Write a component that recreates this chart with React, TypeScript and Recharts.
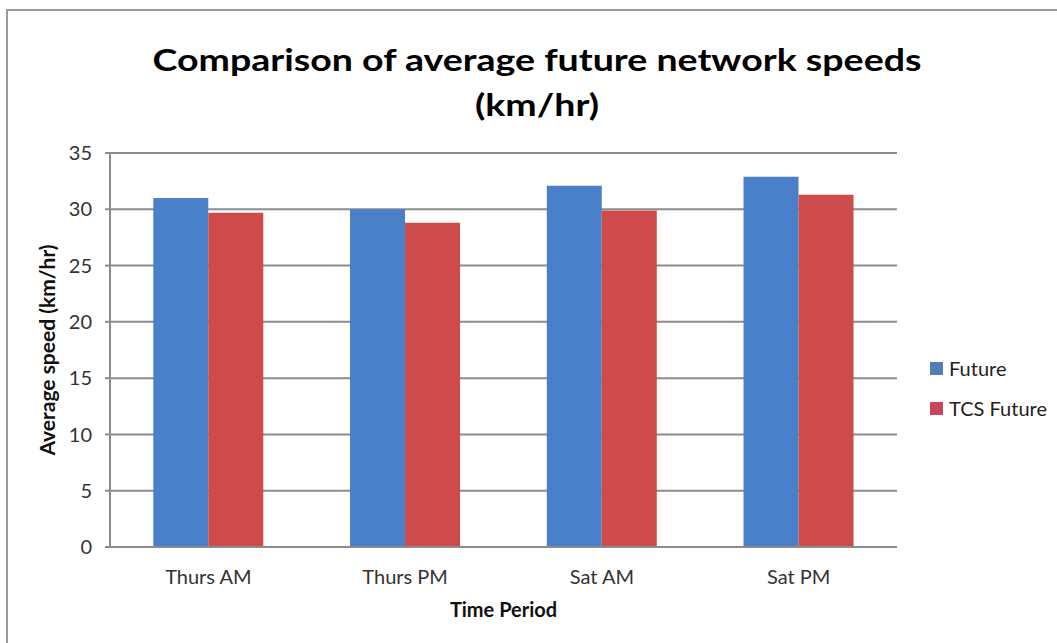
import { Bar, BarChart, CartesianGrid, Label, Legend, XAxis, YAxis } from 'recharts'

const periods = ['Thurs AM', 'Thurs PM', 'Sat AM', 'Sat PM']
const futureSpeeds = [31.0, 30.0, 32.1, 32.9]
const tcsFutureSpeeds = [29.7, 28.8, 29.9, 31.3]
const speedTicks = [0, 5, 10, 15, 20, 25, 30, 35]

const FONT = 'Lato, "Open Sans", sans-serif'
const BLUE = '#4a80c9'
const RED = '#cf4a4b'

const chartData = periods.map((period, i) => ({
  period,
  future: futureSpeeds[i],
  tcsFuture: tcsFutureSpeeds[i],
}))

function LegendBox() {
  const items = [
    { label: 'Future', color: '#4f7fb5' },
    { label: 'TCS Future', color: '#c9455a' },
  ]
  return (
    <div style={{ fontFamily: FONT, fontSize: 20, color: '#222' }}>
      {items.map((item) => (
        <div key={item.label} style={{ display: 'flex', alignItems: 'center', height: 40 }}>
          <span
            style={{ width: 13, height: 13, background: item.color, marginRight: 6, display: 'inline-block' }}
          />
          {item.label}
        </div>
      ))}
    </div>
  )
}

export default function App() {
  return (
    <div
      style={{
        position: 'absolute',
        left: 0,
        top: 0,
        width: 1057,
        height: 643,
        background: '#fff',
        overflow: 'hidden',
      }}
    >
      <div
        style={{
          position: 'absolute',
          left: 6,
          top: 9,
          width: 1100,
          height: 700,
          borderTop: '2px solid #9a9a9a',
          borderLeft: '2px solid #9a9a9a',
        }}
      />
      <div
        style={{
          position: 'absolute',
          left: 537,
          top: 37,
          transform: 'translateX(-50%) scaleX(1.25)',
          whiteSpace: 'nowrap',
          textAlign: 'center',
          fontFamily: FONT,
          fontWeight: 700,
          fontSize: 30,
          lineHeight: '45px',
          color: '#000',
        }}
      >
        Comparison of average future network speeds
        <br />
        (km/hr)
      </div>
      <BarChart
        width={1057}
        height={643}
        data={chartData}
        margin={{ top: 153, right: 160, left: 10, bottom: 16 }}
        barCategoryGap="22%"
        barGap={0}
        style={{ position: 'absolute', left: 0, top: 0 }}
      >
        <CartesianGrid vertical={false} stroke="#8c8c8c" strokeWidth={2} />
        <XAxis
          dataKey="period"
          height={80}
          tickLine={false}
          axisLine={{ stroke: '#8c8c8c', strokeWidth: 2 }}
          tickMargin={17}
          tick={{ fill: '#333', fontSize: 20, fontFamily: FONT }}
        >
          <Label
            value="Time Period"
            position="insideBottom"
            offset={10}
            style={{ fill: '#111', fontSize: 20, fontWeight: 700, fontFamily: FONT }}
          />
        </XAxis>
        <YAxis
          width={100}
          domain={[0, 35]}
          ticks={speedTicks}
          tickSize={5}
          tickMargin={13}
          tickLine={{ stroke: '#8c8c8c', strokeWidth: 2 }}
          axisLine={{ stroke: '#8c8c8c', strokeWidth: 2 }}
          tick={{ fill: '#333', fontSize: 20, fontFamily: FONT }}
        >
          <Label
            value="Average speed (km/hr)"
            angle={-90}
            position="insideLeft"
            offset={38}
            style={{ textAnchor: 'middle', fill: '#111', fontSize: 21, fontWeight: 700, fontFamily: FONT }}
          />
        </YAxis>
        <Legend
          layout="vertical"
          align="center"
          verticalAlign="middle"
          content={<LegendBox />}
          wrapperStyle={{ left: 930, top: 348, width: 130 }}
        />
        <Bar dataKey="future" name="Future" fill={BLUE} isAnimationActive={false} />
        <Bar dataKey="tcsFuture" name="TCS Future" fill={RED} isAnimationActive={false} />
      </BarChart>
    </div>
  )
}
